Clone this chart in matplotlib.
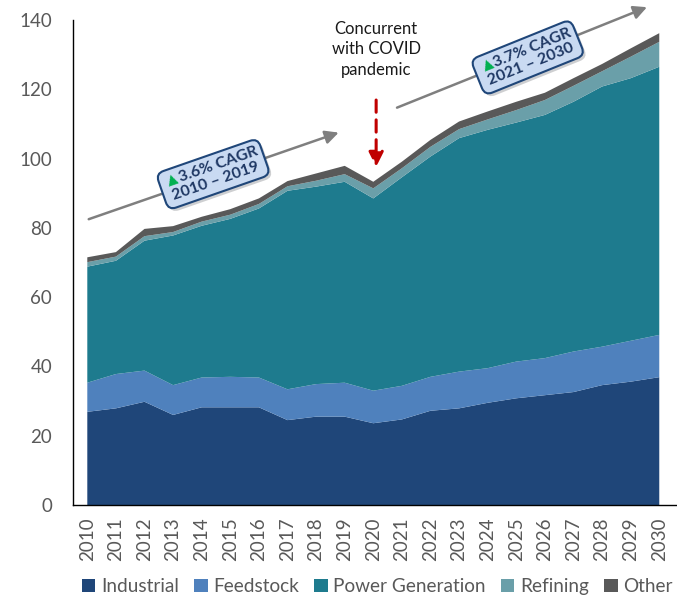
import numpy as np
import matplotlib
matplotlib.use("Agg")
import matplotlib.pyplot as plt
from matplotlib import patheffects

plt.rcParams['font.family'] = ['Lato', 'DejaVu Sans']

years = list(range(2010, 2031))
industrial = [26.9, 27.9, 29.8, 26.0, 28.2, 28.2, 28.2, 24.5, 25.5, 25.5, 23.6,
              24.7, 27.2, 27.9, 29.5, 30.8, 31.7, 32.6, 34.6, 35.6, 36.9]
feedstock = [8.4, 9.9, 9.0, 8.6, 8.6, 8.8, 8.6, 8.9, 9.4, 9.8, 9.4,
             9.7, 9.8, 10.6, 10.0, 10.6, 10.7, 11.7, 11.1, 11.8, 12.2]
power_gen = [33.5, 32.7, 37.5, 43.2, 43.8, 45.6, 48.8, 57.3, 57.0, 58.0, 55.5,
             60.2, 63.6, 67.4, 68.8, 69.0, 70.2, 72.1, 75.1, 75.8, 77.4]
refining = [1.3, 1.2, 1.3, 1.0, 1.2, 1.2, 1.3, 1.3, 1.7, 2.2, 2.9,
            2.6, 2.8, 2.6, 3.0, 3.6, 4.3, 4.6, 4.4, 6.2, 7.2]
other = [1.4, 1.3, 2.1, 1.7, 1.4, 1.6, 1.6, 1.5, 2.1, 2.4, 1.9,
         1.9, 2.0, 2.2, 2.3, 2.4, 2.1, 2.2, 2.1, 2.4, 2.5]

labels = ['Industrial', 'Feedstock', 'Power Generation', 'Refining', 'Other']
colors = ['#1F4679', '#4F81BD', '#1E7B8E', '#6A9FA9', '#595959']

fig = plt.figure(figsize=(6.77, 5.96), dpi=100)
ax = fig.add_axes([73 / 677, 91 / 596, 604 / 677, 485 / 596])

ax.stackplot(years, industrial, feedstock, power_gen, refining, other,
             colors=colors, labels=labels, linewidth=0)

ax.set_xlim(2009.5, 2030.62)
ax.set_ylim(0, 140)
ax.set_yticks(range(0, 141, 20))
ax.set_xticks(years)
ax.set_xticklabels([str(y) for y in years], rotation=90, fontsize=13.5, color='#595959')
ax.tick_params(axis='x', length=0, pad=9)
ax.tick_params(axis='y', length=0, pad=15, labelsize=13.5, labelcolor='#595959')
for s in ['top', 'right']:
    ax.spines[s].set_visible(False)
for s in ['left', 'bottom']:
    ax.spines[s].set_color('#000000')
    ax.spines[s].set_linewidth(1.0)

# growth trend arrows
arrow_kw = dict(arrowstyle='-|>', color='#7F7F7F', lw=1.8, mutation_scale=20,
                shrinkA=0, shrinkB=0)
ax.annotate('', xy=(2018.79, 107.5), xytext=(2010.05, 82.5),
            arrowprops=arrow_kw, annotation_clip=False)
ax.annotate('', xy=(2029.57, 143.7), xytext=(2020.83, 114.7),
            arrowprops=arrow_kw, annotation_clip=False)

# CAGR callouts sitting on the trend arrows
def cagr_box(x, y, angle, rate, span):
    t = ax.text(x, y, '    ' + rate + ' CAGR\n' + span, rotation=angle,
                rotation_mode='anchor', ha='center', va='center', fontsize=11.5,
                fontweight='bold', color='#1F3864', linespacing=1.1,
                bbox=dict(boxstyle='round,pad=0.3,rounding_size=0.5', fc='#C9DAF2',
                          ec='#1F4679', lw=1.5), zorder=5)
    t.get_bbox_patch().set_path_effects(
        [patheffects.withSimplePatchShadow(offset=(2, -2), alpha=0.25)])
    th = np.deg2rad(angle)
    lx, ly = -40, 9
    dx = lx * np.cos(th) - ly * np.sin(th)
    dy = lx * np.sin(th) + ly * np.cos(th)
    ax.annotate('\u25B2', xy=(x, y), xytext=(dx * 0.72, dy * 0.72),
                textcoords='offset points', rotation=angle,
                rotation_mode='anchor', ha='center', va='center',
                fontsize=10, color='#00B050', family='DejaVu Sans', zorder=6)

cagr_box(2014.4, 95.5, 19.2, '3.6%', '2010 \u2013 2019')
cagr_box(2025.4, 129.2, 22.0, '3.7%', '2021 \u2013 2030')

# COVID note
ax.text(2020.1, 131.5, 'Concurrent\nwith COVID\npandemic', ha='center', va='center',
        fontsize=12, color='#1A1A1A', linespacing=1.35)
ax.annotate('', xy=(2020.1, 97.6), xytext=(2020.1, 116.9),
            arrowprops=dict(arrowstyle='-|>', color='#C00000', lw=2.2,
                            linestyle=(0, (4, 2.5)), mutation_scale=22,
                            shrinkA=0, shrinkB=0))

fig.legend(loc='center', bbox_to_anchor=(0.5576, 0.016), ncol=5, frameon=False,
           fontsize=13.7, labelcolor='#595959', handlelength=0.7, handleheight=0.7,
           handletextpad=0.3, columnspacing=0.8, borderaxespad=0)

fig.savefig('out.png', dpi=100)
